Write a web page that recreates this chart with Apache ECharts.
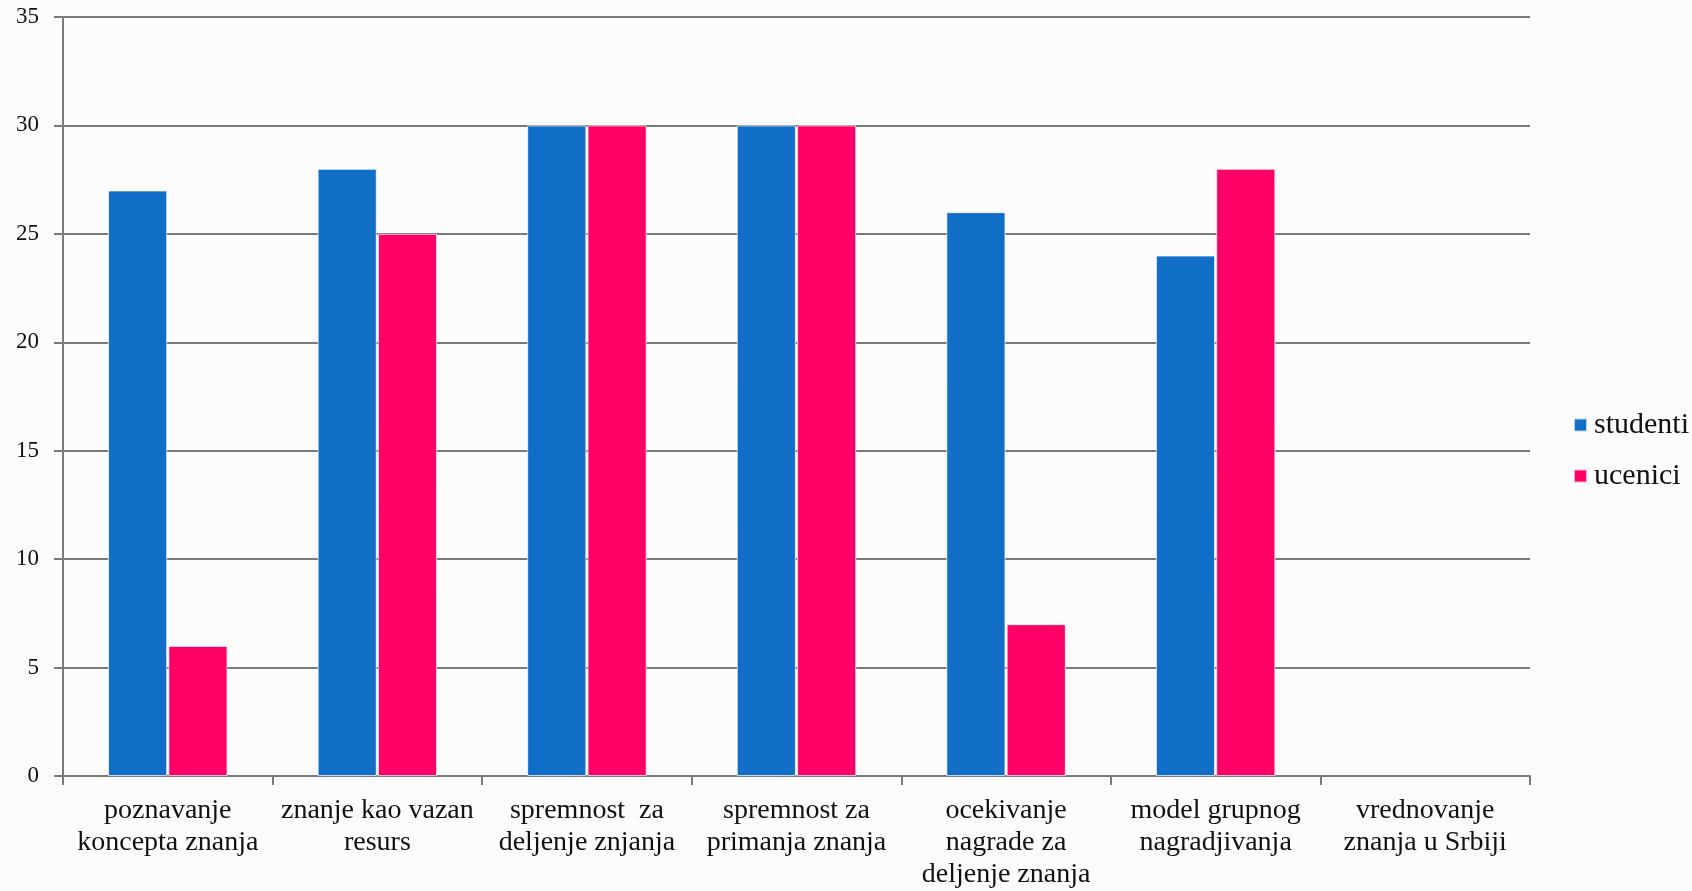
<!DOCTYPE html>
<html><head><meta charset="utf-8">
<script src="https://cdn.jsdelivr.net/npm/echarts@6/dist/echarts.min.js"></script>
<style>html,body{margin:0;padding:0;background:#fcfcfc;}#c{width:1692px;height:891px;}</style>
</head><body><div id="c"></div>
<script>
const categories = [
  "poznavanje\nkoncepta znanja",
  "znanje kao vazan\nresurs",
  "spremnost  za\ndeljenje znjanja",
  "spremnost za\nprimanja znanja",
  "ocekivanje\nnagrade za\ndeljenje znanja",
  "model grupnog\nnagradjivanja",
  "vrednovanje\nznanja u Srbiji"
];
const studenti = [27, 28, 30, 30, 26, 24, null];
const ucenici = [6, 25, 30, 30, 7, 28, null];

const chart = echarts.init(document.getElementById('c'));
const gridColor = '#7a7a7a';
chart.setOption({
  backgroundColor: '#fcfcfc',
  animation: false,
  grid: {left: 63, right: 162, top: 17, bottom: 114, containLabel: false},
  legend: {
    orient: 'vertical', left: 1573, top: 410, padding: 0,
    itemWidth: 13, itemHeight: 13, itemGap: 21,
    icon: 'rect',
    textStyle: {fontFamily: 'Liberation Serif', fontSize: 30, color: '#111', lineHeight: 26, padding: [0,0,0,2]},
    data: ['studenti', 'ucenici']
  },
  xAxis: {
    type: 'category', data: categories, boundaryGap: true,
    axisLine: {show: true, lineStyle: {color: gridColor, width: 2}},
    axisTick: {show: true, length: 9, lineStyle: {color: gridColor, width: 2}},
    axisLabel: {interval: 0, margin: 19, fontFamily: 'Liberation Serif', fontSize: 28, color: '#111', lineHeight: 32, align: 'center'}
  },
  yAxis: {
    type: 'value', min: 0, max: 35, interval: 5,
    axisLine: {show: true, lineStyle: {color: gridColor, width: 2}},
    axisTick: {show: true, length: 9, lineStyle: {color: gridColor, width: 2}},
    splitLine: {show: true, lineStyle: {color: gridColor, width: 2}},
    axisLabel: {margin: 24, fontFamily: 'Liberation Serif', fontSize: 23, color: '#111'}
  },
  series: [
    {name: 'studenti', type: 'bar', data: studenti, barGap: '2%', barCategoryGap: '43%',
     itemStyle: {color: '#116ec6', borderColor: 'rgba(255,255,255,0.7)', borderWidth: 1}},
    {name: 'ucenici', type: 'bar', data: ucenici,
     itemStyle: {color: '#ff0066', borderColor: 'rgba(255,255,255,0.7)', borderWidth: 1}}
  ]
});
</script></body></html>
